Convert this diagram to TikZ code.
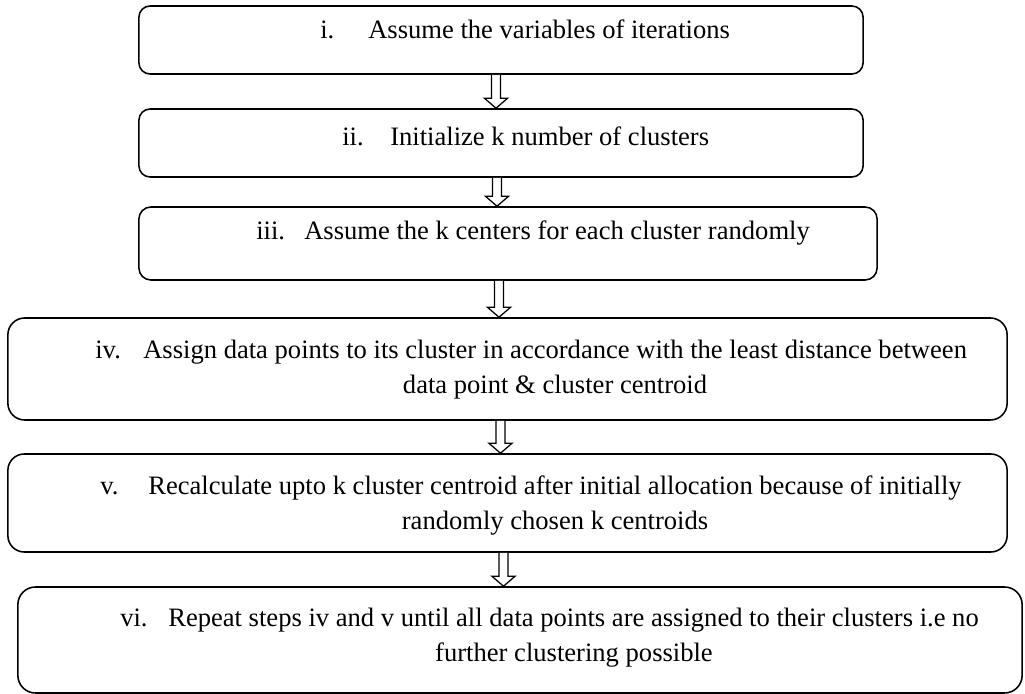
\documentclass[tikz,border=0pt]{standalone}
\usepackage{fontspec}
\setmainfont{Liberation Serif}
\usetikzlibrary{calc}
\tikzset{
    stepbox/.style={draw, line width=1.1pt, inner sep=0pt},
    steptext/.style={anchor=base west, inner sep=0pt},
    stepnum/.style={anchor=base west, inner sep=0pt},
    hollowarrow/.style={draw, line width=0.9pt, fill=white, line join=miter}
}
% hollow block arrow from the bottom of one box to the top of the next
\newcommand\blockarrow[3]{%
    \draw[hollowarrow] let \p1=($(#1.south)+(#3,0)$), \p2=(#2.north) in
        (\x1-0.115cm,\y1) -- (\x1-0.115cm,\y2+0.25cm) -- (\x1-0.29cm,\y2+0.25cm)
        -- (\x1,\y2) -- (\x1+0.29cm,\y2+0.25cm) -- (\x1+0.115cm,\y2+0.25cm) -- (\x1+0.115cm,\y1);}
\begin{document}
\begin{tikzpicture}[x=0.025cm, y=-0.025cm, font=\fontsize{18.9}{25}\selectfont]
    \useasboundingbox (0,0) rectangle (1025,694);
        \node[stepbox, rounded corners=0.28cm, minimum width=18.1cm, minimum height=1.7cm] (b1) at (501,40) {};
        \node[stepbox, rounded corners=0.28cm, minimum width=18.1cm, minimum height=1.7cm] (b2) at (501,143) {};
        \node[stepbox, rounded corners=0.3cm, minimum width=18.45cm, minimum height=1.825cm] (b3) at (508,243.5) {};
        \node[stepbox, rounded corners=0.42cm, minimum width=24.975cm, minimum height=2.55cm] (b4) at (507.5,369) {};
        \node[stepbox, rounded corners=0.41cm, minimum width=24.975cm, minimum height=2.45cm] (b5) at (507.5,503) {};
        \node[stepbox, rounded corners=0.44cm, minimum width=25.1cm, minimum height=2.65cm] (b6) at (520,640) {};
        %
        \blockarrow{b1}{b2}{-5}
        \blockarrow{b2}{b3}{-4}
        \blockarrow{b3}{b4}{-9}
        \blockarrow{b4}{b5}{-7}
        \blockarrow{b5}{b6}{-4}
        %
        \node[stepnum] (n1) at (320,39) {i.};
        \node[steptext] (t1) at (368,39) {Assume the variables of iterations};
        \node[stepnum] (n2) at (342,146) {ii.};
        \node[steptext] (t2) at (390,146) {Initialize k number of clusters};
        \node[stepnum] (n3) at (256,240) {iii.};
        \node[steptext] (t3) at (304,240) {Assume the k centers for each cluster randomly};
        \node[stepnum] (n4) at (95,359) {iv.};
        \node[steptext] (t4a) at (143,359) {Assign data points to its cluster in accordance with the least distance between};
        \node[anchor=base, inner sep=0pt] (t4b) at (555,394) {data point \& cluster centroid};
        \node[stepnum] (n5) at (100,494) {v.};
        \node[steptext] (t5a) at (148,494) {Recalculate upto k cluster centroid after initial allocation because of initially};
        \node[anchor=base, inner sep=0pt] (t5b) at (555,529) {randomly chosen k centroids};
        \node[stepnum] (n6) at (120,626) {vi.};
        \node[steptext] (t6a) at (168,626) {Repeat steps iv and v until all data points are assigned to their clusters i.e no};
        \node[anchor=base, inner sep=0pt] (t6b) at (574,661) {further clustering possible};
    \end{tikzpicture}
\end{document}
